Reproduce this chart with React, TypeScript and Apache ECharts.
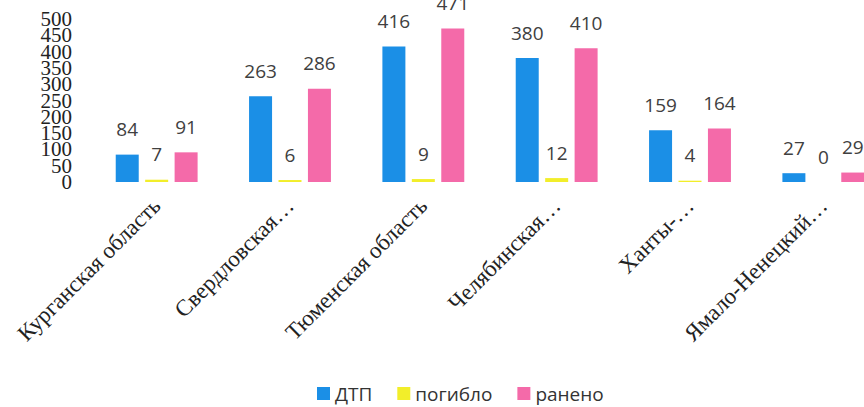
import React, { useEffect, useRef } from "react";
import * as echarts from "echarts";

const categories = [
  "Курганская область",
  "Свердловская…",
  "Тюменская область",
  "Челябинская…",
  "Ханты-…",
  "Ямало-Ненецкий…",
];
const dtp = [84, 263, 416, 380, 159, 27];
const died = [7, 6, 9, 12, 4, 0];
const injured = [91, 286, 471, 410, 164, 29];
const yTicks = { min: 0, max: 500, interval: 50 };

export default function App() {
  const ref = useRef<HTMLDivElement>(null);
  useEffect(() => {
    document.body.style.margin = "0";
    if (!ref.current) return;
    const chart = echarts.init(ref.current, undefined, { renderer: "svg" });
    const label = {
      show: true,
      position: "top",
      distance: 16,
      color: "#404040",
      fontFamily: "Open Sans",
      fontSize: 19,
    };
    const mk = (name: string, data: number[], color: string) => ({
      name,
      type: "bar",
      data,
      barWidth: 23,
      barGap: "28%",
      itemStyle: { color },
      label,
    });
    const yAxisBase = (even: boolean) => ({
      type: "value",
      position: "left",
      min: yTicks.min,
      max: yTicks.max,
      interval: yTicks.interval,
      splitLine: { show: false },
      axisLine: { show: false },
      axisTick: { show: false },
      axisLabel: {
        margin: 18,
        showMinLabel: true,
        showMaxLabel: true,
        fontFamily: "Liberation Serif",
        fontSize: 21,
        color: "#222",
        formatter: (v: number) =>
          (v % 100 === 0) === even ? String(v) : "",
      },
    });
    chart.setOption({
      animation: false,
      backgroundColor: "#ffffff",
      grid: {
        left: 90,
        top: 19,
        width: 800,
        height: 163,
        outerBoundsMode: "none",
        containLabel: false,
      },
      legend: {
        left: 312,
        top: 379,
        itemWidth: 13,
        itemHeight: 13,
        itemGap: 25,
        icon: "rect",
        textStyle: { fontFamily: "Open Sans", fontSize: 19, color: "#333" },
        data: ["ДТП", "погибло", "ранено"],
      },
      xAxis: {
        type: "category",
        data: categories,
        axisLine: { show: false },
        axisTick: { show: false },
        axisLabel: {
          rotate: 45,
          interval: 0,
          margin: 20,
          fontFamily: "Liberation Serif",
          fontSize: 23,
          color: "#222",
        },
      },
      yAxis: [yAxisBase(true), yAxisBase(false)],
      series: [
        mk("ДТП", dtp, "#1b8fe6"),
        mk("погибло", died, "#f2ee2a"),
        mk("ранено", injured, "#f46aa9"),
      ],
    });
    return () => chart.dispose();
  }, []);
  return <div ref={ref} style={{ width: 864, height: 407 }} />;
}
